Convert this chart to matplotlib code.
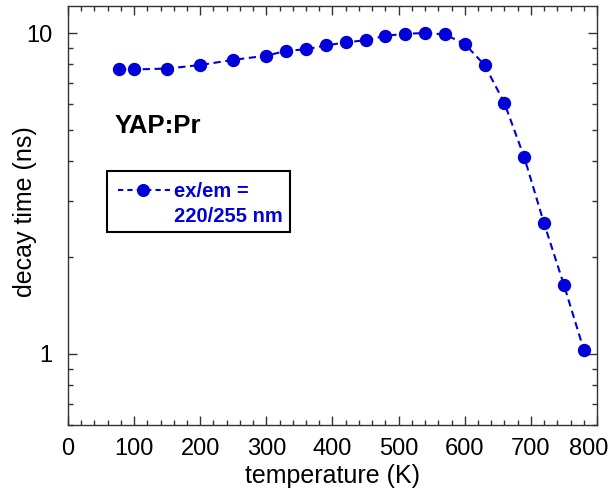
import matplotlib
matplotlib.use("Agg")
import matplotlib.pyplot as plt
from matplotlib.ticker import MultipleLocator, LogLocator, NullFormatter, FixedLocator, FixedFormatter
from matplotlib.patches import Rectangle
from matplotlib.lines import Line2D

# YAP:Pr decay time vs temperature (ex/em = 220/255 nm)
temperature = [77, 100, 150, 200, 250, 300, 330, 360, 390, 420, 450, 480,
               510, 540, 570, 600, 630, 660, 690, 720, 750, 780]
decay_time = [7.7, 7.7, 7.75, 7.95, 8.25, 8.5, 8.8, 8.9, 9.15, 9.35, 9.5, 9.8,
              9.95, 10.0, 9.9, 9.25, 7.95, 6.05, 4.1, 2.55, 1.64, 1.03]
x_ticks = [0, 100, 200, 300, 400, 500, 600, 700, 800]
series_label = ["ex/em =", "220/255 nm"]
sample_label = "YAP:Pr"

blue = "#0000d8"
plt.rcParams["font.family"] = ["Liberation Sans", "DejaVu Sans"]

fig = plt.figure(figsize=(6.14, 4.96), dpi=100)
ax = fig.add_axes([0.1107, 0.1431, 0.8616, 0.8438])

ax.plot(temperature, decay_time, color=blue, lw=1.5, dashes=(3.5, 2.2),
        marker="o", ms=8.6, mec=blue, mfc=blue)

ax.set_yscale("log")
ax.set_xlim(0, 800)
ax.set_ylim(0.6, 12.1)

# the last x label is drawn separately, nudged left so it stays on the canvas
ax.xaxis.set_major_locator(FixedLocator(x_ticks))
ax.xaxis.set_major_formatter(FixedFormatter([str(t) for t in x_ticks[:-1]] + [""]))
ax.xaxis.set_minor_locator(MultipleLocator(20))
ax.yaxis.set_major_locator(FixedLocator([1, 10]))
ax.yaxis.set_minor_locator(LogLocator(base=10, subs=range(2, 10)))
ax.yaxis.set_minor_formatter(NullFormatter())
ax.set_yticklabels(["1", "10"])

ax.tick_params(which="both", direction="in", top=True, right=True,
               color="#333333", width=1.0, labelsize=17)
ax.tick_params(which="major", length=6.5)
ax.tick_params(which="minor", length=3.6)
ax.tick_params(axis="x", pad=9)
ax.tick_params(axis="y", pad=11)
for s in ax.spines.values():
    s.set_linewidth(1.0)
    s.set_color("#333333")

ax.annotate(str(x_ticks[-1]), xy=(x_ticks[-1], 0), xycoords=("data", "axes fraction"),
            xytext=(-6, -9), textcoords="offset points", ha="center", va="top",
            fontsize=17)

ax.set_xlabel("temperature (K)", fontsize=18, labelpad=3)
ax.set_ylabel("decay time (ns)", fontsize=18)
ax.yaxis.set_label_coords(-0.0586, 0.511)

ax.text(0.0888, 0.6977, sample_label, transform=ax.transAxes, fontsize=18.5,
        fontweight="bold", va="baseline")

# legend box drawn by hand so the handle sits on the first text line
ax.add_patch(Rectangle((0.0743, 0.4605), 0.3454, 0.1472, transform=ax.transAxes,
                       fill=False, ec="black", lw=1.5))
ax.add_line(Line2D([0.0952, 0.1928], [0.5615, 0.5615], transform=ax.transAxes,
                   color=blue, lw=1.5, dashes=(2.5, 2.0)))
ax.add_line(Line2D([0.1418], [0.5615], transform=ax.transAxes, color=blue,
                   marker="o", ms=8.4, mec=blue, mfc=blue))
ax.text(0.2004, 0.5455, series_label[0], transform=ax.transAxes, fontsize=14.5,
        fontweight="bold", color=blue, va="baseline")
ax.text(0.2004, 0.4858, series_label[1], transform=ax.transAxes, fontsize=14.5,
        fontweight="bold", color=blue, va="baseline")

fig.savefig("out.png", dpi=100)
